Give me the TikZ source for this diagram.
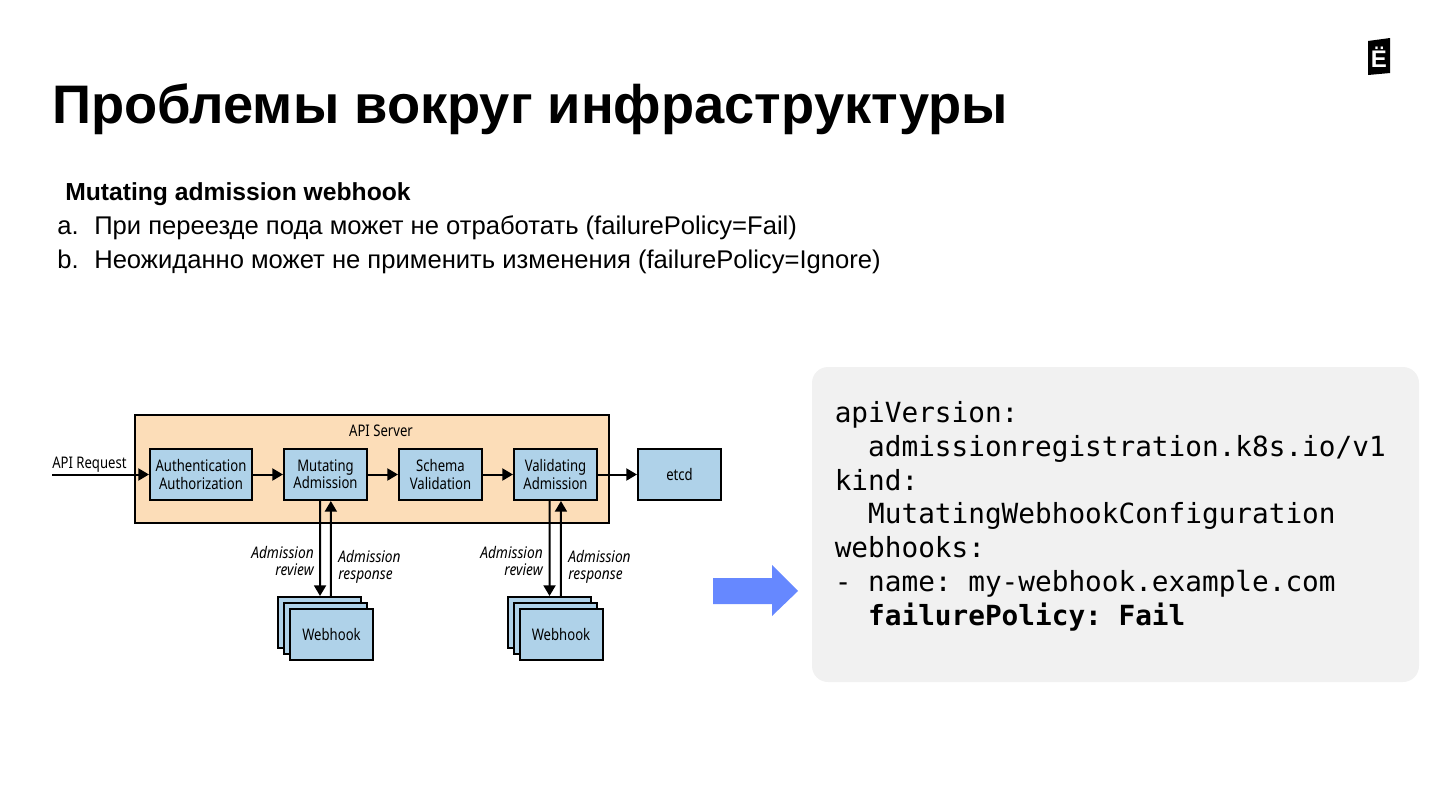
\documentclass[tikz,border=0pt]{standalone}
\usepackage{fontspec}
\usetikzlibrary{arrows.meta}
\setmainfont{Liberation Sans}
\newfontfamily\labelfont[FakeStretch=0.82]{Noto Sans}
\newfontfamily\tagfont[FakeStretch=0.86]{Noto Sans}
\newfontfamily\codefont{DejaVu Sans Mono}
\definecolor{serverfill}{RGB}{252, 221, 184}
\definecolor{boxfill}{RGB}{175, 210, 233}
\definecolor{panelfill}{RGB}{241, 241, 241}
\definecolor{arrowblue}{RGB}{102, 136, 255}
\tikzset{
  box/.style={draw=black, fill=boxfill, line width=1.5pt, inner sep=0pt, align=center,
    font=\labelfont\fontsize{12}{13}\selectfont},
  flow/.style={draw=black, line width=1.5pt, -{Triangle[length=8pt, width=9pt]}},
  tag/.style={inner sep=0pt, align=right, font=\tagfont\itshape\fontsize{12}{13}\selectfont},
  textline/.style={anchor=base west, inner sep=0pt, font=\fontsize{19.2}{22}\selectfont}
}
\begin{document}
\frenchspacing
\begin{tikzpicture}[x=0.75pt, y=-0.75pt]
  \useasboundingbox (0, 0) rectangle (1440, 810);

  % heading
  \node[anchor=base west, inner sep=0pt, font=\bfseries\fontsize{40.7}{48}\selectfont]
    (heading) at (52, 123) {Проблемы вокруг инфраструктуры};
  \fill[black] (1368, 41) -- (1390, 38) -- (1390, 73) -- (1368, 75) -- cycle;
  \node[inner sep=0pt, text=white, font=\bfseries\fontsize{18}{20}\selectfont] (logo) at (1379, 57) {Ё};

  % text
  \node[textline, font=\bfseries\fontsize{18.5}{22}\selectfont] (subhead) at (65, 200) {Mutating admission webhook};
  \node[textline] (marka) at (57, 234) {a.};
  \node[textline] (itema) at (94, 234) {При переезде пода может не отработать (failurePolicy=Fail)};
  \node[textline] (markb) at (57, 268) {b.};
  \node[textline] (itemb) at (94, 268) {Неожиданно может не применить изменения (failurePolicy=Ignore)};

  % server
  \node[draw=black, fill=serverfill, line width=1.5pt, minimum width=355.5pt, minimum height=81pt,
    inner sep=0pt] (server) at (371.5, 469) {};
  \node[inner sep=0pt, font=\labelfont\fontsize{12}{13}\selectfont] (servername) at (381, 431) {API Server};

  % boxes
  \foreach \name/\x/\w/\txt in {
      auth/201/76.5/{Authentication\\Authorization},
      mutating/325.5/62.25/{Mutating\\Admission},
      schema/440.5/62.25/{Schema\\Validation},
      validating/555.5/62.25/{Validating\\Admission},
      etcd/679.5/62.25/{etcd}} {
    \node[box, minimum width=\w pt, minimum height=38.25pt] (\name) at (\x, 474.5) {\txt};
  };

  % webhooks
  \foreach \name/\x in {mut/325.5, val/555} {
    \node[box, minimum width=62.25pt, minimum height=38.25pt] (\name back) at (\x - 6, 622.5) {};
    \node[box, minimum width=62.25pt, minimum height=38.25pt] (\name mid) at (\x, 628.5) {};
    \node[box, minimum width=62.25pt, minimum height=38.25pt] (\name hook) at (\x + 6, 634.5) {Webhook};
  };

  % request
  \coordinate (request) at (52, 474.5);
  \node[anchor=base west, inner sep=0pt, font=\labelfont\fontsize{12}{13}\selectfont] (requestname) at (52, 468) {API Request};
  \draw[flow] (request) -- (auth.west);

  % chain
  \foreach \a/\b in {auth/mutating, mutating/schema, schema/validating, validating/etcd} {
    \draw[flow] (\a.east) -- (\b.west);
  };

  % review, response
  \draw[flow] ([xshift=-4pt]mutating.south) -- ([xshift=0.4pt]mutback.north);
  \draw[flow] ([xshift=8.6pt]mutback.north) -- ([xshift=4pt]mutating.south);
  \draw[flow] ([xshift=-4.5pt]validating.south) -- ([xshift=0.4pt]valback.north);
  \draw[flow] ([xshift=8.9pt]valback.north) -- ([xshift=4.1pt]validating.south);

  \node[tag, anchor=north east] (reviewa) at (314, 546) {Admission\\review};
  \node[tag, anchor=north west, align=left] (responsea) at (338, 550) {Admission\\response};
  \node[tag, anchor=north east] (reviewb) at (543, 546) {Admission\\review};
  \node[tag, anchor=north west, align=left] (responseb) at (568, 550) {Admission\\response};

  % big arrow
  \fill[arrowblue] (713, 578) -- (772, 578) -- (772, 565) -- (798, 591) -- (772, 616)
    -- (772, 604) -- (713, 604) -- cycle;

  % code
  \fill[panelfill, rounded corners=12pt] (812, 367) rectangle (1419, 682);
  \node[anchor=base west, inner sep=0pt, align=left,
    font=\codefont\fontsize{20.8}{25.3}\selectfont] (code) at (834.5, 625)
    {apiVersion:\\
     \ \ admissionregistration.k8s.io/v1\\
     kind:\\
     \ \ MutatingWebhookConfiguration\\
     webhooks:\\
     - name: my-webhook.example.com\\
     \ \ \textbf{failurePolicy: Fail}};
\end{tikzpicture}
\end{document}
